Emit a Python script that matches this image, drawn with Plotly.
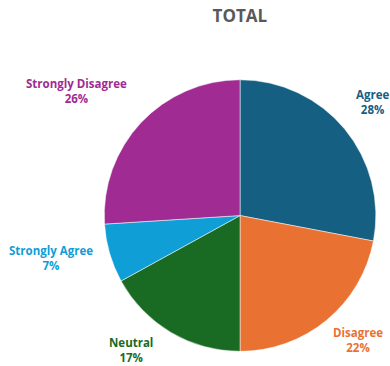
import plotly.graph_objects as go

# Survey response shares
categories = ["Agree", "Disagree", "Neutral", "Strongly Agree", "Strongly Disagree"]
shares = [28, 22, 17, 7, 26]
colors = ["#156082", "#E97132", "#196B24", "#0F9ED5", "#A02B93"]

# Label anchor points (paper coordinates) for the outside labels
label_x = [0.955, 0.918, 0.336, 0.131, 0.195]
label_y = [0.72, 0.071, 0.045, 0.296, 0.751]

fig = go.Figure(
    go.Pie(
        labels=categories,
        values=shares,
        marker=dict(colors=colors, line=dict(color="white", width=0.5)),
        sort=False,
        direction="clockwise",
        rotation=0,
        textinfo="none",
        hoverinfo="label+percent",
        domain=dict(x=[0.264, 0.967], y=[0.04, 0.782]),
        showlegend=False,
    )
)

for cat, val, col, x, y in zip(categories, shares, colors, label_x, label_y):
    fig.add_annotation(
        x=x, y=y, xref="paper", yref="paper",
        text=f"<b>{cat}<br>{val}%</b>",
        showarrow=False,
        font=dict(family="Open Sans", size=11.5, color=col),
        align="center",
        xanchor="center", yanchor="middle",
    )

fig.update_layout(
    width=390, height=366,
    margin=dict(l=0, r=0, t=0, b=0),
    paper_bgcolor="white",
    plot_bgcolor="white",
    title=dict(
        text="<b>TOTAL</b>",
        x=0.615, y=0.955, xanchor="center", yanchor="middle",
        font=dict(family="Open Sans", size=17, color="#595959"),
    ),
)

fig.write_html("out.html")
